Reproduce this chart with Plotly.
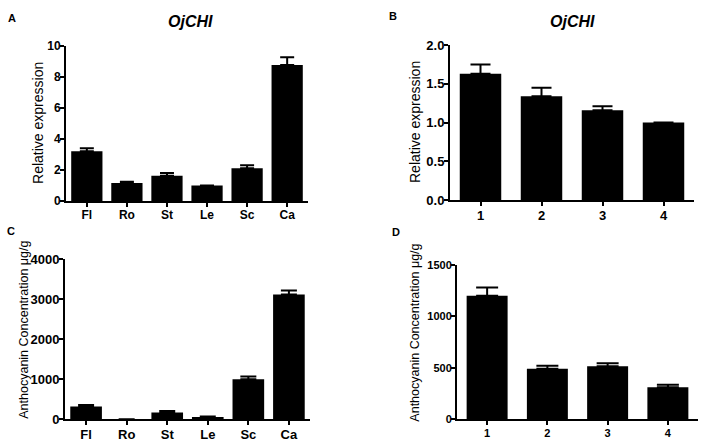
import plotly.graph_objects as go

# ---- data ----
tissues = ["Fl", "Ro", "St", "Le", "Sc", "Ca"]
stages = ["1", "2", "3", "4"]

expr_tissue = [3.2, 1.15, 1.62, 1.0, 2.1, 8.75]
expr_tissue_err = [0.2, 0.08, 0.18, 0.0, 0.2, 0.5]

expr_stage = [1.63, 1.34, 1.16, 1.0]
expr_stage_err = [0.12, 0.11, 0.05, 0.0]

antho_tissue = [320, 0, 170, 60, 1000, 3120]
antho_tissue_err = [40, None, 35, 12, 70, 100]

antho_stage = [1200, 490, 515, 310]
antho_stage_err = [80, 30, 30, 25]

FONT = "Arial, Liberation Sans, sans-serif"
W, H = 701, 445


def px(x):
    return x / W


def py(y):
    return 1 - y / H


fig = go.Figure()


def add_bar(x, y, err, xa, ya, width, capw):
    fig.add_trace(go.Bar(
        x=x, y=y, xaxis=xa, yaxis=ya, width=width,
        marker=dict(color="black", line=dict(width=0)),
        error_y=dict(type="data", symmetric=False, array=err,
                     arrayminus=[0] * len(err), color="black",
                     thickness=2, width=capw),
        showlegend=False, hoverinfo="x+y",
    ))


add_bar(tissues, expr_tissue, expr_tissue_err, "x", "y", 0.78, 7)
add_bar(stages, expr_stage, expr_stage_err, "x2", "y2", 0.68, 10)
add_bar(tissues, antho_tissue, antho_tissue_err, "x3", "y3", 0.78, 8)
add_bar(stages, antho_stage, antho_stage_err, "x4", "y4", 0.68, 11)


def xax(dom, anchor, rng, size):
    return dict(domain=dom, anchor=anchor, type="category", range=rng,
                showline=True, linecolor="black", linewidth=2,
                ticks="outside", ticklen=4, tickwidth=2, tickcolor="black",
                ticklabelstandoff=-2,
                showgrid=False, zeroline=False, fixedrange=True,
                tickfont=dict(family=FONT, size=size, color="black", weight="bold"))


def yax(dom, anchor, rng, dtick, size, fmt=None):
    d = dict(domain=dom, anchor=anchor, range=rng, dtick=dtick, tick0=0,
             showline=True, linecolor="black", linewidth=2,
             ticks="outside", ticklen=4, tickwidth=2, tickcolor="black",
             ticklabelstandoff=-3,
             showgrid=False, zeroline=False, fixedrange=True,
             tickfont=dict(family=FONT, size=size, color="black", weight="bold"))
    if fmt:
        d["tickformat"] = fmt
    return d


fig.update_layout(
    width=W, height=H,
    margin=dict(l=0, r=0, t=0, b=0),
    paper_bgcolor="white", plot_bgcolor="white",
    xaxis=xax([px(66), px(308)], "y", [-0.52, 5.52], 12),
    yaxis=yax([py(200.7), py(40)], "x", [0, 10], 2, 12),
    xaxis2=xax([px(450), px(694)], "y2", [-0.5, 3.5], 13),
    yaxis2=yax([py(200), py(39.3)], "x2", [0, 2.0], 0.5, 13, ".1f"),
    xaxis3=xax([px(65), px(310)], "y3", [-0.52, 5.52], 13),
    yaxis3=yax([py(426.7), py(261)], "x3", [0, 4000], 1000, 13),
    xaxis4=xax([px(457), px(698)], "y4", [-0.5, 3.5], 11),
    yaxis4=yax([py(426.7), py(266.7)], "x4", [0, 1500], 500, 11),
)

ann = []


def text(x, y, s, size, bold=False, italic=False, angle=0):
    t = s
    if italic:
        t = "<i>" + t + "</i>"
    if bold:
        t = "<b>" + t + "</b>"
    ann.append(dict(x=px(x), y=py(y), xref="paper", yref="paper", text=t,
                    showarrow=False, textangle=angle, xanchor="center",
                    yanchor="middle",
                    font=dict(family=FONT, size=size, color="black")))


# panel letters
text(12, 11, "A", 11, bold=True)
text(393, 9, "B", 11, bold=True)
text(11, 232, "C", 11, bold=True)
text(396, 233, "D", 11, bold=True)

# gene titles
text(190, 15, "OjCHI", 16, bold=True, italic=True)
text(572, 15, "OjCHI", 16, bold=True, italic=True)

# y-axis titles
text(38, 120, "Relative expression", 14, angle=-90)
text(415, 119, "Relative expression", 14, angle=-90)
text(24, 334, "Anthocyanin Concentration μg/g", 12.5, angle=-90)
text(415, 337, "Anthocyanin Concentration μg/g", 12.5, angle=-90)

fig.update_layout(annotations=ann)

fig.write_html(
    "out.html",
    config={"displayModeBar": False},
    post_script="document.body.style.margin='0';document.body.style.overflow='hidden';",
)
